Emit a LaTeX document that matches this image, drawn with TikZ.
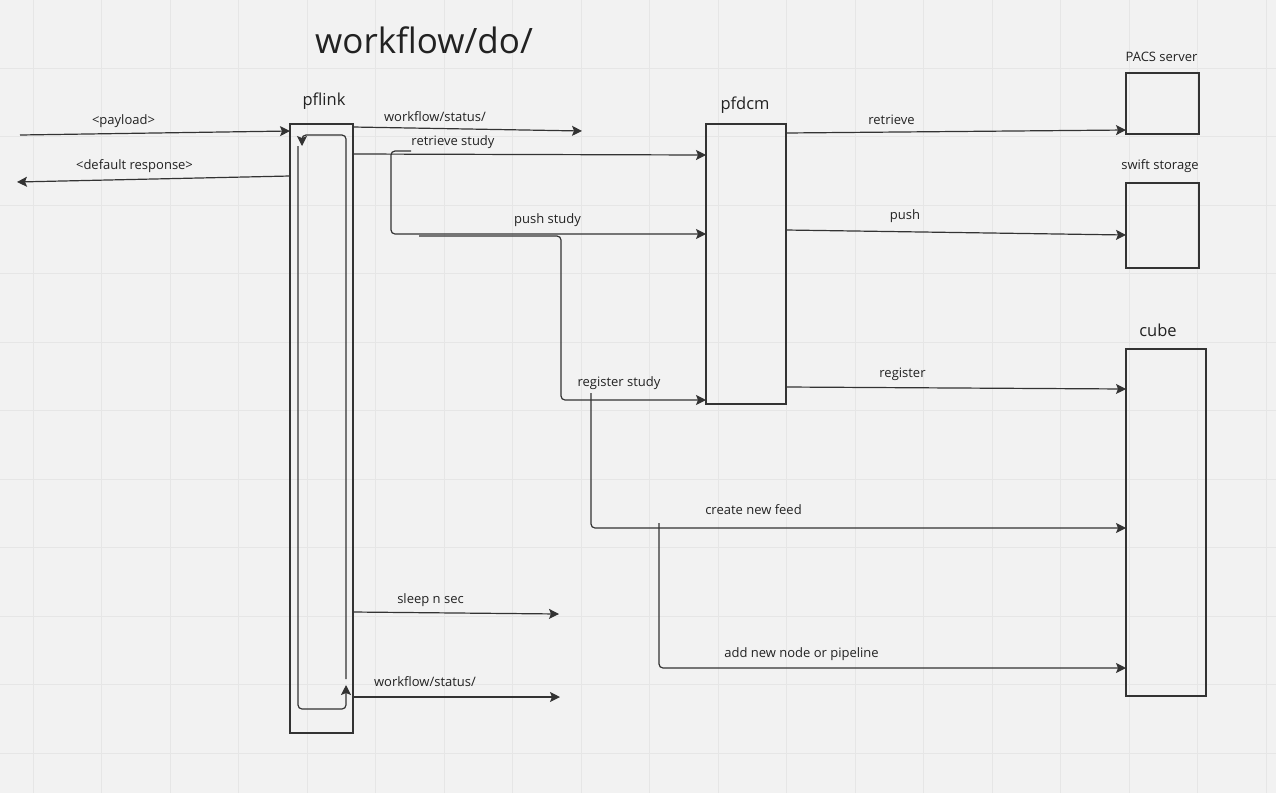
\documentclass[tikz,border=0pt]{standalone}
\usepackage{fontspec}
\setmainfont{Open Sans}
\usetikzlibrary{arrows.meta}
\definecolor{bg}{HTML}{F2F2F2}
\definecolor{gridc}{HTML}{E6E6E6}
\definecolor{linec}{HTML}{333333}
\definecolor{textc}{HTML}{222222}
\tikzset{
  box/.style={draw=linec, line width=1.4pt, inner sep=0pt, outer sep=0pt, anchor=north west},
  conn/.style={draw=linec, line width=1.2pt, rounded corners=4pt, -{Stealth[length=10pt,width=10pt,inset=2pt]}},
  lbl/.style={text=textc, font=\fontsize{13}{15}\selectfont, inner sep=0pt},
  head/.style={text=textc, font=\fontsize{16.5}{19}\selectfont, inner sep=0pt},
}
\begin{document}
\begin{tikzpicture}[x=1pt,y=-1pt]
\fill[bg] (0,0) rectangle (1276,793);
\useasboundingbox (0,0) rectangle (1276,793);
% grid
\foreach \i in {0,...,18} {\draw[gridc, line width=0.8pt] ({33+68.5*\i},0) -- ({33+68.5*\i},793);}
\foreach \j in {0,...,10} {\draw[gridc, line width=0.8pt] (0,{68+68.5*\j}) -- (1276,{68+68.5*\j});}

% title
\node[text=textc, font=\fontsize{35}{40}\selectfont, inner sep=0pt] (title) at (424,40.5) {workflow/do/};

% boxes
\node[box, minimum width=63pt, minimum height=609pt] (pflink) at (290,124) {};
\node[box, minimum width=80pt, minimum height=280pt] (pfdcm) at (706,124) {};
\node[box, minimum width=73pt, minimum height=61pt] (pacs) at (1126,73) {};
\node[box, minimum width=73pt, minimum height=85pt] (swift) at (1126,183) {};
\node[box, minimum width=80pt, minimum height=347pt] (cube) at (1126,349) {};

% box titles
\node[head] (tpflink) at (324,101.5) {pflink};
\node[head] (tpfdcm) at (745,105.5) {pfdcm};
\node[head] (tcube) at (1158,330) {cube};
\node[lbl] (tpacs) at (1161.5,56.5) {PACS server};
\node[lbl] (tswift) at (1160,166.5) {swift storage};

% free ends
\coordinate (pin) at (20,135);
\coordinate (pout) at (17,182);
\coordinate (ws1) at (582,131);
\coordinate (sl) at (559,614);
\coordinate (ws2) at (560,697);
\coordinate (rsA) at (411,151);
\coordinate (psA) at (419,236);
\coordinate (rgA) at (591,393);
\coordinate (nfA) at (659,523);
\coordinate (loopB) at (346,679);
\coordinate (loopA) at (298,146);

% incoming / outgoing
\draw[conn] (pin) -- (pflink.west |- 0,131);
\draw[conn] (pflink.west |- 0,176) -- (pout);

% pflink inner loop
\draw[conn] (loopB) -- (346,135) -- (302,135) -- (302,146);
\draw[conn] (loopA) -- (298,709) -- (346,709) -- (346,685);

% pflink outgoing
\draw[conn] (pflink.east |- 0,127) -- (ws1);
\draw[conn] (pflink.east |- 0,154) -- (pfdcm.west |- 0,155);
\draw[conn] (rsA) -- (391,151) -- (391,234) -- (pfdcm.west |- 0,234);
\draw[conn] (psA) -- (561,236) -- (561,400) -- (pfdcm.west |- 0,400);
\draw[conn] (rgA) -- (591,528) -- (cube.west |- 0,528);
\draw[conn] (nfA) -- (659,668) -- (cube.west |- 0,668);
\draw[conn] (pflink.east |- 0,612) -- (sl);
\draw[conn] (pflink.east |- 0,697) -- (ws2);

% pfdcm outgoing
\draw[conn] (pfdcm.east |- 0,133) -- (pacs.west |- 0,130);
\draw[conn] (pfdcm.east |- 0,230) -- (swift.west |- 0,235);
\draw[conn] (pfdcm.east |- 0,387) -- (cube.west |- 0,389);

% labels
\node[lbl] (lpay) at (123.5,121.5) {<payload>};
\node[lbl] (ldef) at (134.5,166.5) {<default response>};
\node[lbl] (lws1) at (435,116.5) {workflow/status/};
\node[lbl] (lrs) at (453,142.5) {retrieve study};
\node[lbl] (lps) at (547.5,220.5) {push study};
\node[lbl] (lrg) at (619,383.5) {register study};
\node[lbl] (lnf) at (753.5,509.5) {create new feed};
\node[lbl] (lan) at (801.5,654.5) {add new node or pipeline};
\node[lbl] (lret) at (891.5,119.5) {retrieve};
\node[lbl] (lpush) at (905,216.5) {push};
\node[lbl] (lreg) at (902.5,374.5) {register};
\node[lbl] (lsl) at (430.5,600.5) {sleep n sec};
\node[lbl] (lws2) at (425,681.5) {workflow/status/};
\end{tikzpicture}
\end{document}
